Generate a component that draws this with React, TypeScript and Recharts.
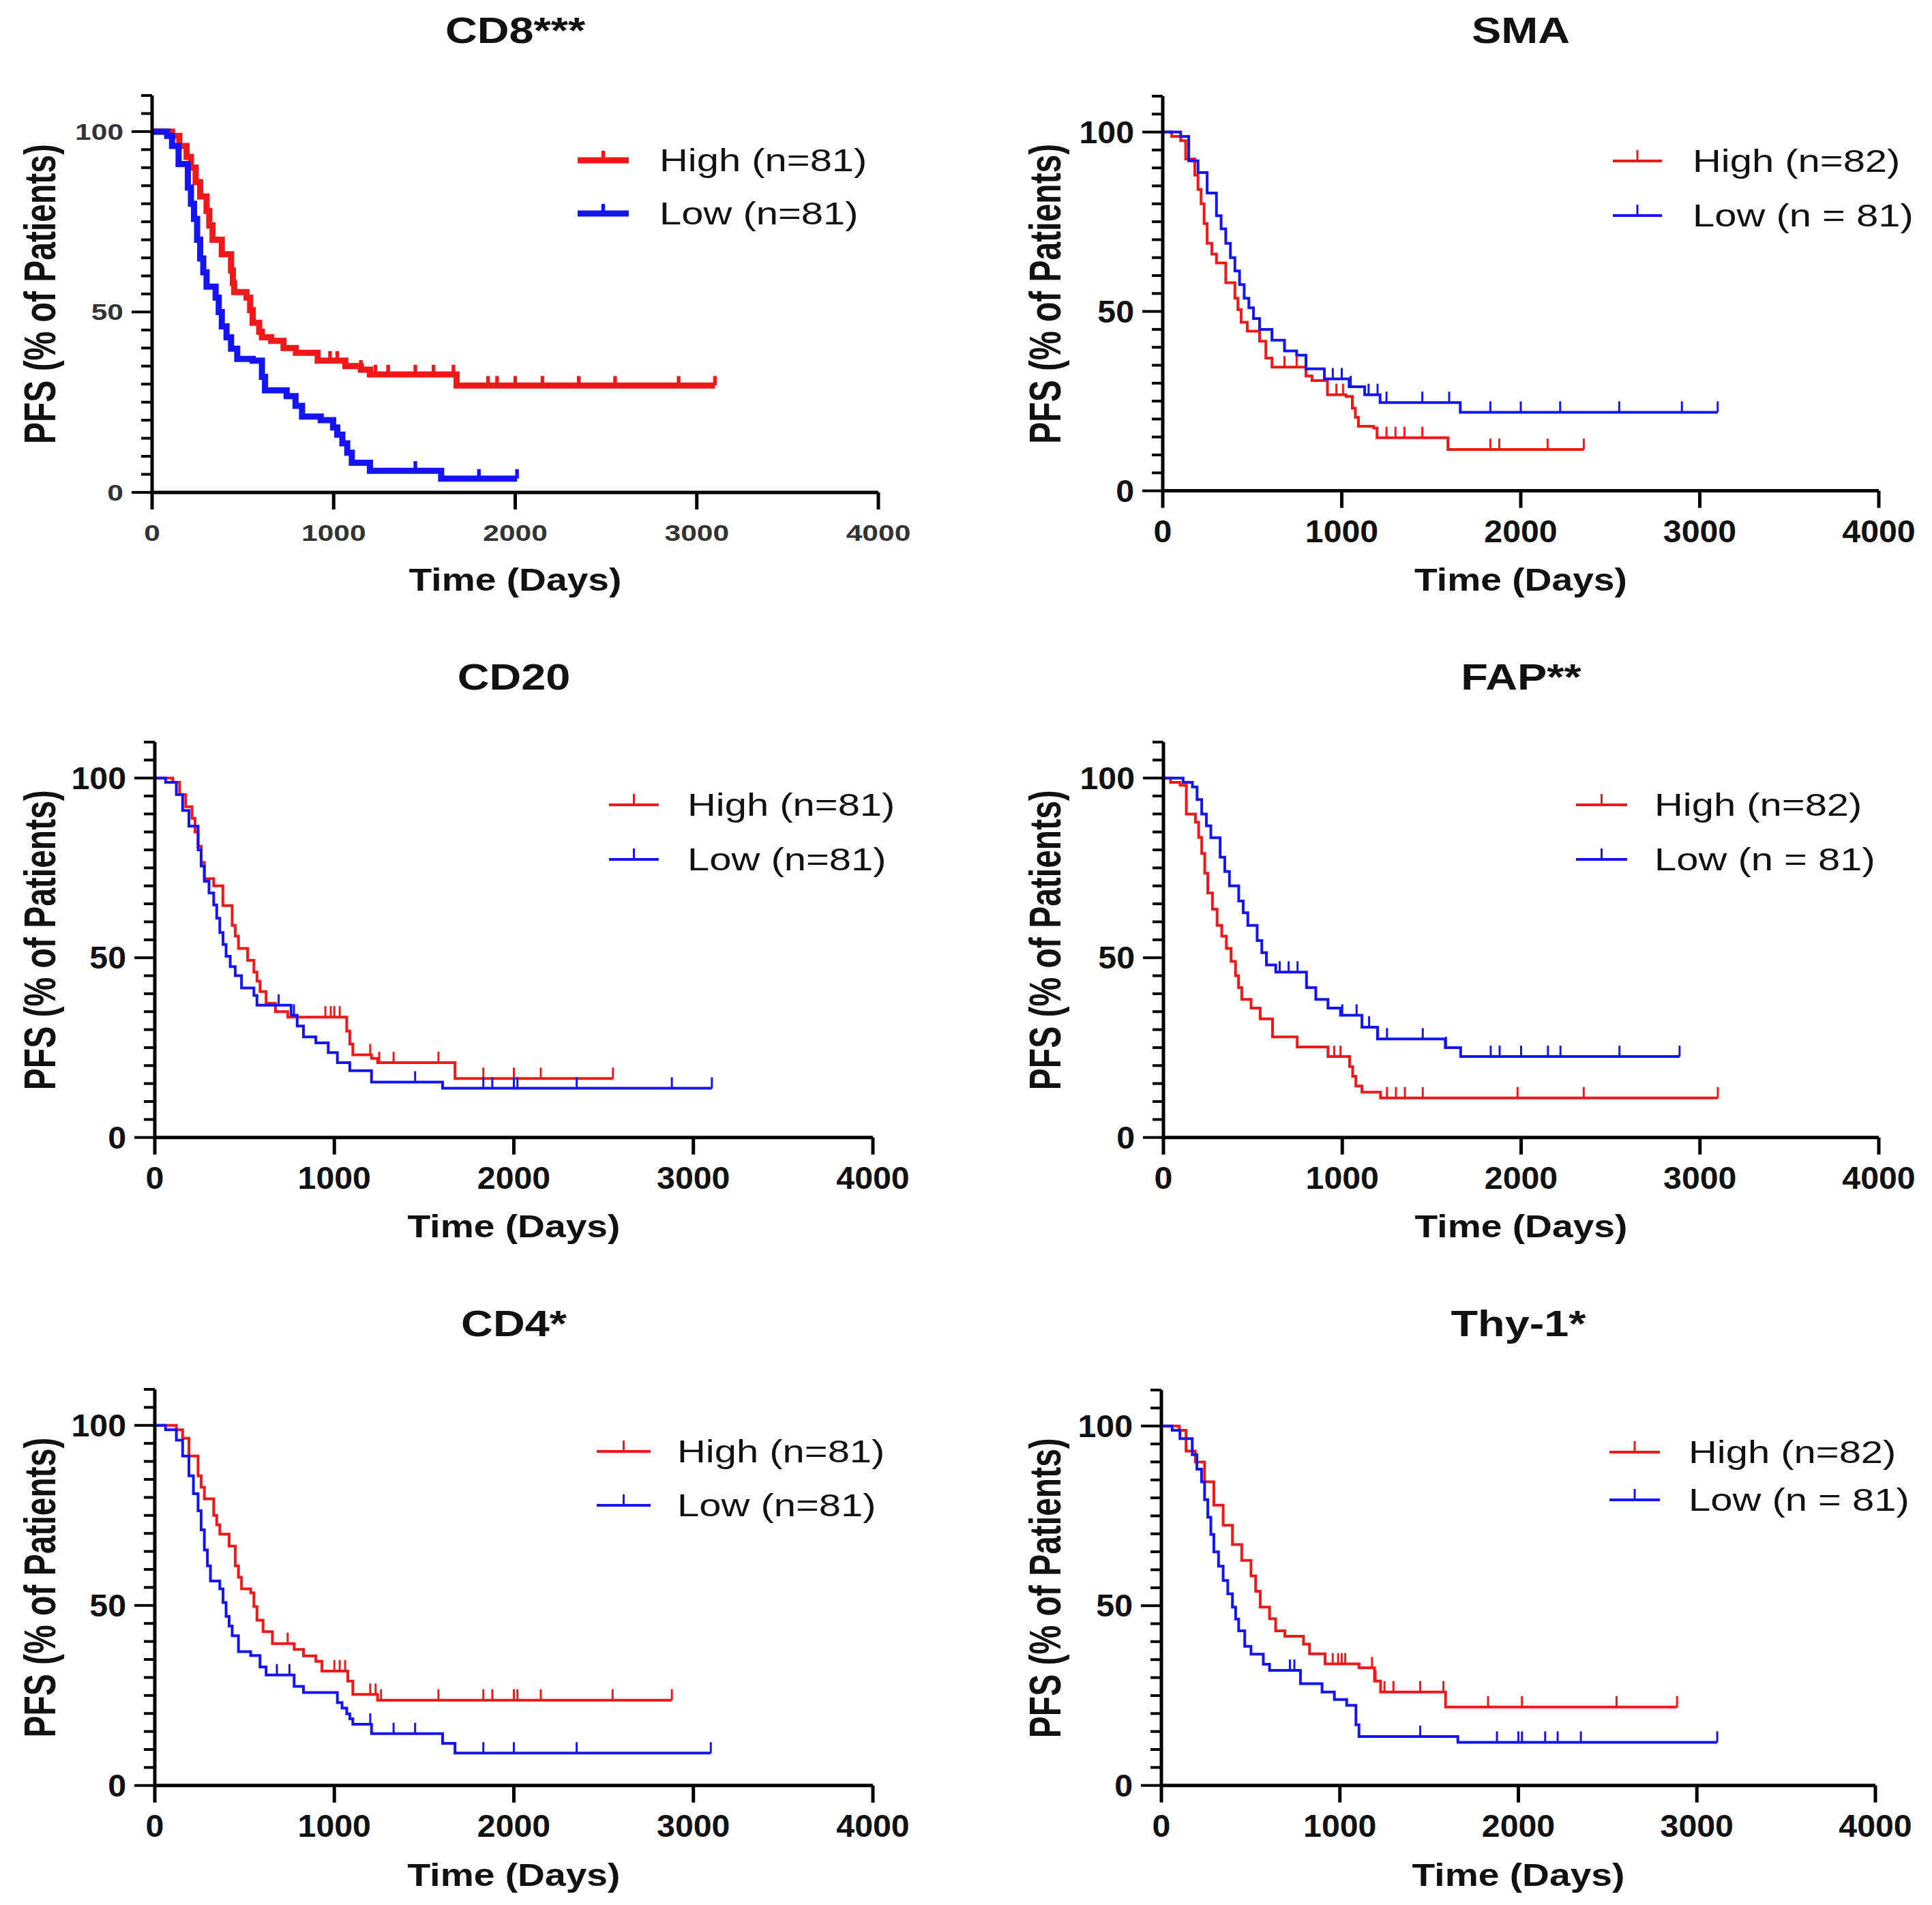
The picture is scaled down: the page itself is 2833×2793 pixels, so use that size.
import React from "react";
import { LineChart, Line, XAxis, YAxis, Legend } from "recharts";

// Kaplan-Meier step points [day, % PFS], plus censor times
const cd8High = [[0,100],[110,98.8],[150,96],[190,93],[214,90],[240,86],[265,82],[300,78],[315,74],[333,70],[384,66],[435,61.5],[445,58],[452,55.5],[520,54],[540,50.5],[554,47],[590,44.5],[605,43],[656,42],[724,40],[792,38.7],[912,36.5],[1064,35],[1150,34],[1200,32.7],[1677,29.6]];
const cd8HighCens = [980,1020,1150,1230,1300,1450,1550,1660,1850,1900,2000,2150,2350,2550,2900,3100];
const cd8Low = [[0,100],[83,98.8],[110,96],[146,91],[197,84.5],[214,80],[231,75.8],[248,70],[265,64.8],[282,61],[300,57],[350,54],[367,50],[384,46],[410,43],[435,39.8],[469,37],[554,36.5],[605,32],[622,28.3],[741,26.7],[790,24],[826,21],[929,20],[997,18],[1020,16],[1048,13.6],[1075,11],[1100,8.2],[1200,6],[1592,3.8]];
const cd8LowCens = [1450,1800,2010];

const smaHigh = [[0,100],[50,98.8],[100,97.6],[128,92.5],[179,88],[197,84],[214,80],[231,74.5],[248,69],[274,66],[300,63.5],[352,58],[403,53.7],[420,50.5],[438,47],[472,44.5],[541,41.7],[576,37],[610,34.5],[800,32],[834,30.7],[920,26.8],[1024,26.3],[1059,23],[1076,20.5],[1093,18],[1179,17.5],[1197,14.8],[1593,11.5]];
const smaHighCens = [680,748,970,1007,1250,1300,1350,1450,1830,1880,2150,2352];
const smaLow = [[0,100],[100,98.8],[145,92],[197,88.7],[248,83],[300,76.7],[326,73],[352,69],[378,65],[403,61.3],[429,57.5],[455,53.7],[481,51],[507,48],[541,45],[610,42],[680,39],[748,37.8],[800,34],[903,31.2],[1041,29],[1128,26.8],[1214,24.6],[1662,21.9]];
const smaLowCens = [950,1000,1050,1150,1200,1250,1450,1600,1830,2000,2220,2550,2900,3100];

const cd20High = [[0,100],[100,98.8],[138,95.4],[172,92],[207,88.8],[224,85],[241,81],[258,76.5],[276,72],[328,70],[379,64.5],[431,59],[448,56],[466,52.6],[517,49.3],[552,46],[569,43.5],[586,40.6],[620,37.3],[672,35],[741,33.5],[1069,29.6],[1086,26],[1103,23],[1207,22],[1241,20.8],[1672,16.4]];
const cd20HighCens = [950,980,1000,1030,1200,1250,1330,1580,1830,2000,2150,2552];
const cd20Low = [[0,100],[60,98.8],[120,95.4],[155,91],[190,86.6],[241,80],[258,75.5],[276,71.3],[302,68],[328,64.7],[345,61],[362,57],[380,53.7],[397,50.4],[420,47.5],[448,45],[483,41.6],[552,39.5],[569,36.8],[759,34],[793,31],[828,28],[897,26.3],[966,23.6],[1017,20.8],[1086,18.6],[1207,15.4],[1603,13.7]];
const cd20LowCens = [690,775,1450,1830,1880,2000,2020,2350,2880,3103];

const fapHigh = [[0,100],[40,98.8],[93,98],[128,90],[179,87.7],[197,83.5],[214,79],[231,73.5],[248,68],[274,63.5],[300,59],[326,56],[352,52.6],[378,49],[403,45],[420,41.7],[438,38.4],[490,36],[541,33],[610,28],[748,25.2],[920,22.5],[1041,19.7],[1058,17],[1076,14.3],[1110,12.6],[1214,11]];
const fapHighCens = [955,990,1250,1300,1350,1450,1980,2350,3100];
const fapLow = [[0,100],[110,98.8],[162,97.5],[188,94],[214,90],[240,86.7],[265,83.4],[317,78],[343,74],[369,70],[421,65.8],[446,62.5],[472,59],[524,54.8],[550,51.4],[576,48],[628,46],[800,41.7],[852,38.4],[920,36],[990,34],[1110,30.7],[1197,27.4],[1576,25],[1662,22.5]];
const fapLowCens = [650,700,750,1000,1080,1150,1200,1250,1450,1580,1830,1880,2000,2150,2220,2550,2886];

const cd4High = [[0,100],[120,98.8],[155,96.4],[190,91.5],[241,86],[258,82.8],[276,79.6],[328,75],[345,72.4],[362,69.8],[414,66.5],[448,61],[466,57.8],[483,54.6],[534,53.5],[552,49.7],[569,45.9],[603,42.7],[655,39.4],[776,37.8],[828,36],[897,34.5],[931,31.8],[1075,29],[1103,25.3],[1241,23.7]];
const cd4HighCens = [740,1000,1030,1060,1200,1230,1260,1580,1830,1880,2000,2020,2150,2550,2880];
const cd4Low = [[0,100],[60,98.8],[120,95.9],[155,91.5],[190,86],[215,81],[241,76.3],[258,71],[276,65.4],[293,61],[310,56.8],[362,54.6],[380,50.8],[397,47],[414,44.3],[431,41.6],[466,37.2],[534,36.1],[586,32.9],[620,30.7],[776,27.5],[828,25.8],[1017,23],[1043,21.5],[1069,19.9],[1086,18.5],[1103,17],[1207,14.4],[1603,11.7],[1672,9]];
const cd4LowCens = [680,750,1200,1330,1450,1830,2000,2350,3097];

const thyHigh = [[0,100],[100,98.8],[138,93],[190,90],[242,84.5],[294,78],[346,72.4],[398,67],[450,62.6],[502,58.3],[528,54],[554,49.6],[606,46.4],[640,43],[692,41.5],[796,39.3],[830,36.6],[917,33.8],[1107,32.7],[1194,29],[1228,26],[1592,21.8]];
const thyHighCens = [960,990,1010,1030,1180,1200,1250,1300,1450,1580,1830,2020,2550,2889];
const thyLow = [[0,100],[60,98.8],[104,96.5],[173,92],[199,88],[225,84.5],[242,79.5],[260,74.6],[277,69.8],[294,65],[320,61],[346,57],[372,53.3],[398,49.6],[416,46.3],[433,43],[467,38.7],[502,36.5],[571,33.7],[606,32],[779,28.3],[900,26],[969,23.9],[1038,22.3],[1090,16.9],[1107,13.6],[1661,12]];
const thyLowCens = [720,745,1450,1880,2000,2020,2150,2220,2350,3114];

const titles = ["CD8***", "SMA", "CD20", "FAP**", "CD4*", "Thy-1*"];
const highNames = ["High (n=81)", "High (n=82)", "High (n=81)", "High (n=82)", "High (n=81)", "High (n=82)"];
const lowNames = ["Low (n=81)", "Low (n = 81)", "Low (n=81)", "Low (n = 81)", "Low (n=81)", "Low (n = 81)"];
const xTicks = [0, 1000, 2000, 3000, 4000];
const yTicks = [0,5,10,15,20,25,30,35,40,45,50,55,60,65,70,75,80,85,90,95,100,105,110];
const yLabeled = [0, 50, 100];

const FONT = "'Liberation Sans', Arial, Helvetica, sans-serif";
const SX = 1.2;
const RED = "#f01818";
const BLUE = "#1414f5";

function makeSeries(steps: number[][], cens: number[]) {
  const sorted = [...steps].sort((a, b) => a[0] - b[0]);
  const pts = sorted.map(([t, s]) => ({ t, s, c: 0 }));
  cens.forEach((tc) => {
    let lvl = sorted[0][1];
    for (const [t, s] of sorted) if (t <= tc) lvl = s;
    pts.push({ t: tc, s: lvl, c: 1 });
  });
  pts.sort((a, b) => a.t - b.t || a.c - b.c);
  return pts;
}

function SText({ x, y, size, weight = "bold", anchor = "middle", rot = 0, sx = SX, fill = "#111", children }: any) {
  return (
    <text
      transform={`translate(${x},${y}) scale(${sx},1)${rot ? ` rotate(${rot})` : ""}`}
      textAnchor={anchor}
      dominantBaseline="central"
      fontFamily={FONT}
      fontSize={size}
      fontWeight={weight}
      fill={fill}
    >
      {children}
    </text>
  );
}

// layout of each panel in page pixels
const panels = [
  { x0: 223, x1: 1288, y0: 722, y100: 193, high: [cd8High, cd8HighCens], low: [cd8Low, cd8LowCens], lw: 9, tick: 14, tickFont: 34, tickWeight: 600, tickColor: "#333",
    leg: { lx: 847, len: 75, tx: 967, y1: 235, y2: 313 }, titleY: 44, axisTitleY: 850, yTitleX: 58 },
  { x0: 1705, x1: 2755, y0: 720, y100: 194, high: [smaHigh, smaHighCens], low: [smaLow, smaLowCens], lw: 4, tick: 16, tickFont: 46, tickWeight: "bold", tickColor: "#111",
    leg: { lx: 2365, len: 72, tx: 2482, y1: 236, y2: 316 }, titleY: 44, axisTitleY: 850, yTitleX: 1532 },
  { x0: 227, x1: 1280, y0: 1668, y100: 1141, high: [cd20High, cd20HighCens], low: [cd20Low, cd20LowCens], lw: 4, tick: 16, tickFont: 46, tickWeight: "bold", tickColor: "#111",
    leg: { lx: 893, len: 73, tx: 1008, y1: 1180, y2: 1260 }, titleY: 992, axisTitleY: 1798, yTitleX: 58 },
  { x0: 1706, x1: 2755, y0: 1668, y100: 1141, high: [fapHigh, fapHighCens], low: [fapLow, fapLowCens], lw: 4, tick: 16, tickFont: 46, tickWeight: "bold", tickColor: "#111",
    leg: { lx: 2311, len: 75, tx: 2426, y1: 1180, y2: 1260 }, titleY: 992, axisTitleY: 1798, yTitleX: 1532 },
  { x0: 227, x1: 1280, y0: 2618, y100: 2090, high: [cd4High, cd4HighCens], low: [cd4Low, cd4LowCens], lw: 4, tick: 16, tickFont: 46, tickWeight: "bold", tickColor: "#111",
    leg: { lx: 875, len: 79, tx: 993, y1: 2128, y2: 2207 }, titleY: 1940, axisTitleY: 2749, yTitleX: 58 },
  { x0: 1703, x1: 2750, y0: 2618, y100: 2091, high: [thyHigh, thyHighCens], low: [thyLow, thyLowCens], lw: 4, tick: 16, tickFont: 46, tickWeight: "bold", tickColor: "#111",
    leg: { lx: 2360, len: 74, tx: 2476, y1: 2129, y2: 2199 }, titleY: 1940, axisTitleY: 2749, yTitleX: 1532 },
];

// space around the plot area; axes take the left and bottom parts
const ML = 200, MT = 30, MR = 80, MB = 100;

function censorDot(color: string, len: number, w: number) {
  return (props: any) => {
    const { cx, cy, payload, index } = props;
    if (!payload || !payload.c) return <g key={`n${index}`} />;
    return <line key={`c${index}`} x1={cx} x2={cx} y1={cy} y2={cy - len} stroke={color} strokeWidth={Math.max(3, w * 0.6)} />;
  };
}

function Panel({ p, i }: any) {
  const top = p.y0 - 1.1 * (p.y0 - p.y100);
  const plotW = p.x1 - p.x0;
  const plotH = p.y0 - top;
  const left = p.x0 - ML;
  const topPx = top - MT;
  const high = makeSeries(p.high[0], p.high[1]);
  const low = makeSeries(p.low[0], p.low[1]);

  const yTick = (props: any) => {
    const { y, payload, index } = props;
    const major = yLabeled.includes(payload.value);
    return (
      <g key={`yt${index}`}>
        <line x1={ML} x2={ML - (major ? 30 : 16)} y1={y} y2={y} stroke="#000" strokeWidth={4} />
        {major && (
          <SText x={ML - 42} y={y} size={p.tickFont} weight={p.tickWeight} anchor="end" sx={i === 0 ? 1.25 : 1.05} fill={p.tickColor}>
            {payload.value}
          </SText>
        )}
      </g>
    );
  };
  const xTick = (props: any) => {
    const { x, payload, index } = props;
    const ay = MT + plotH;
    return (
      <g key={`xt${index}`}>
        <line x1={x} x2={x} y1={ay} y2={ay + 25} stroke="#000" strokeWidth={5} />
        <SText x={x} y={ay + 59} size={p.tickFont} weight={p.tickWeight} sx={i === 0 ? 1.25 : 1.05} fill={p.tickColor}>
          {payload.value}
        </SText>
      </g>
    );
  };

  const legendContent = (props: any) => {
    const items = props.payload || [];
    const rows = [p.leg.y1, p.leg.y2];
    return (
      <svg width={700} height={200} style={{ overflow: "visible", display: "block" }}>
        {items.map((it: any, k: number) => {
          const y = rows[k] - rows[0] + 40;
          return (
            <g key={`lg${k}`}>
              <line x1={0} x2={p.leg.len} y1={y} y2={y} stroke={it.color} strokeWidth={p.lw} />
              <line x1={p.leg.len / 2} x2={p.leg.len / 2} y1={y} y2={y - p.tick} stroke={it.color} strokeWidth={Math.max(3, p.lw * 0.6)} />
              <SText x={p.leg.tx - p.leg.lx} y={y} size={46} weight="normal" anchor="start" sx={1.26} fill="#111">
                {it.value}
              </SText>
            </g>
          );
        })}
      </svg>
    );
  };

  return (
    <div style={{ position: "absolute", left, top: topPx }}>
      <LineChart width={plotW + ML + MR} height={plotH + MT + MB} margin={{ left: 0, top: MT, right: MR, bottom: 0 }}>
        <XAxis
          dataKey="t"
          type="number"
          domain={[0, 4000]}
          ticks={xTicks}
          allowDataOverflow
          height={MB}
          tickLine={false}
          axisLine={{ stroke: "#000", strokeWidth: 5 }}
          tick={xTick}
          interval={0}
        />
        <YAxis
          type="number"
          domain={[0, 110]}
          ticks={yTicks}
          width={ML}
          tickLine={false}
          axisLine={{ stroke: "#000", strokeWidth: 5 }}
          tick={yTick}
          interval={0}
        />
        <Legend
          layout="vertical"
          align="center"
          verticalAlign="middle"
          content={legendContent}
          wrapperStyle={{ left: p.leg.lx - left, top: p.leg.y1 - topPx - 40, width: 700, height: 200 }}
        />
        <Line
          data={high}
          dataKey="s"
          name={highNames[i]}
          type="stepAfter"
          stroke={RED}
          strokeWidth={p.lw}
          strokeLinejoin="miter"
          dot={censorDot(RED, p.tick, p.lw)}
          activeDot={false}
          isAnimationActive={false}
        />
        <Line
          data={low}
          dataKey="s"
          name={lowNames[i]}
          type="stepAfter"
          stroke={BLUE}
          strokeWidth={p.lw}
          strokeLinejoin="miter"
          dot={censorDot(BLUE, p.tick, p.lw)}
          activeDot={false}
          isAnimationActive={false}
        />
      </LineChart>
    </div>
  );
}

export default function App() {
  return (
    <div style={{ position: "relative", width: 2833, height: 2793, background: "#fff", overflow: "hidden" }}>
      <style>{"body{margin:0;background:#fff}"}</style>
      {panels.map((p, i) => (
        <Panel key={i} p={p} i={i} />
      ))}
      <svg width={2833} height={2793} style={{ position: "absolute", left: 0, top: 0, pointerEvents: "none" }}>
        {panels.map((p, i) => {
          const top = p.y0 - 1.1 * (p.y0 - p.y100);
          const cx = (p.x0 + p.x1) / 2;
          return (
            <g key={`ov${i}`}>
              <SText x={cx} y={p.titleY} size={54}>{titles[i]}</SText>
              <SText x={cx} y={p.axisTitleY} size={46}>Time (Days)</SText>
              <SText x={p.yTitleX} y={(top + p.y0) / 2} size={48} sx={1.35} rot={-90}>PFS (% of Patients)</SText>
            </g>
          );
        })}
      </svg>
    </div>
  );
}
